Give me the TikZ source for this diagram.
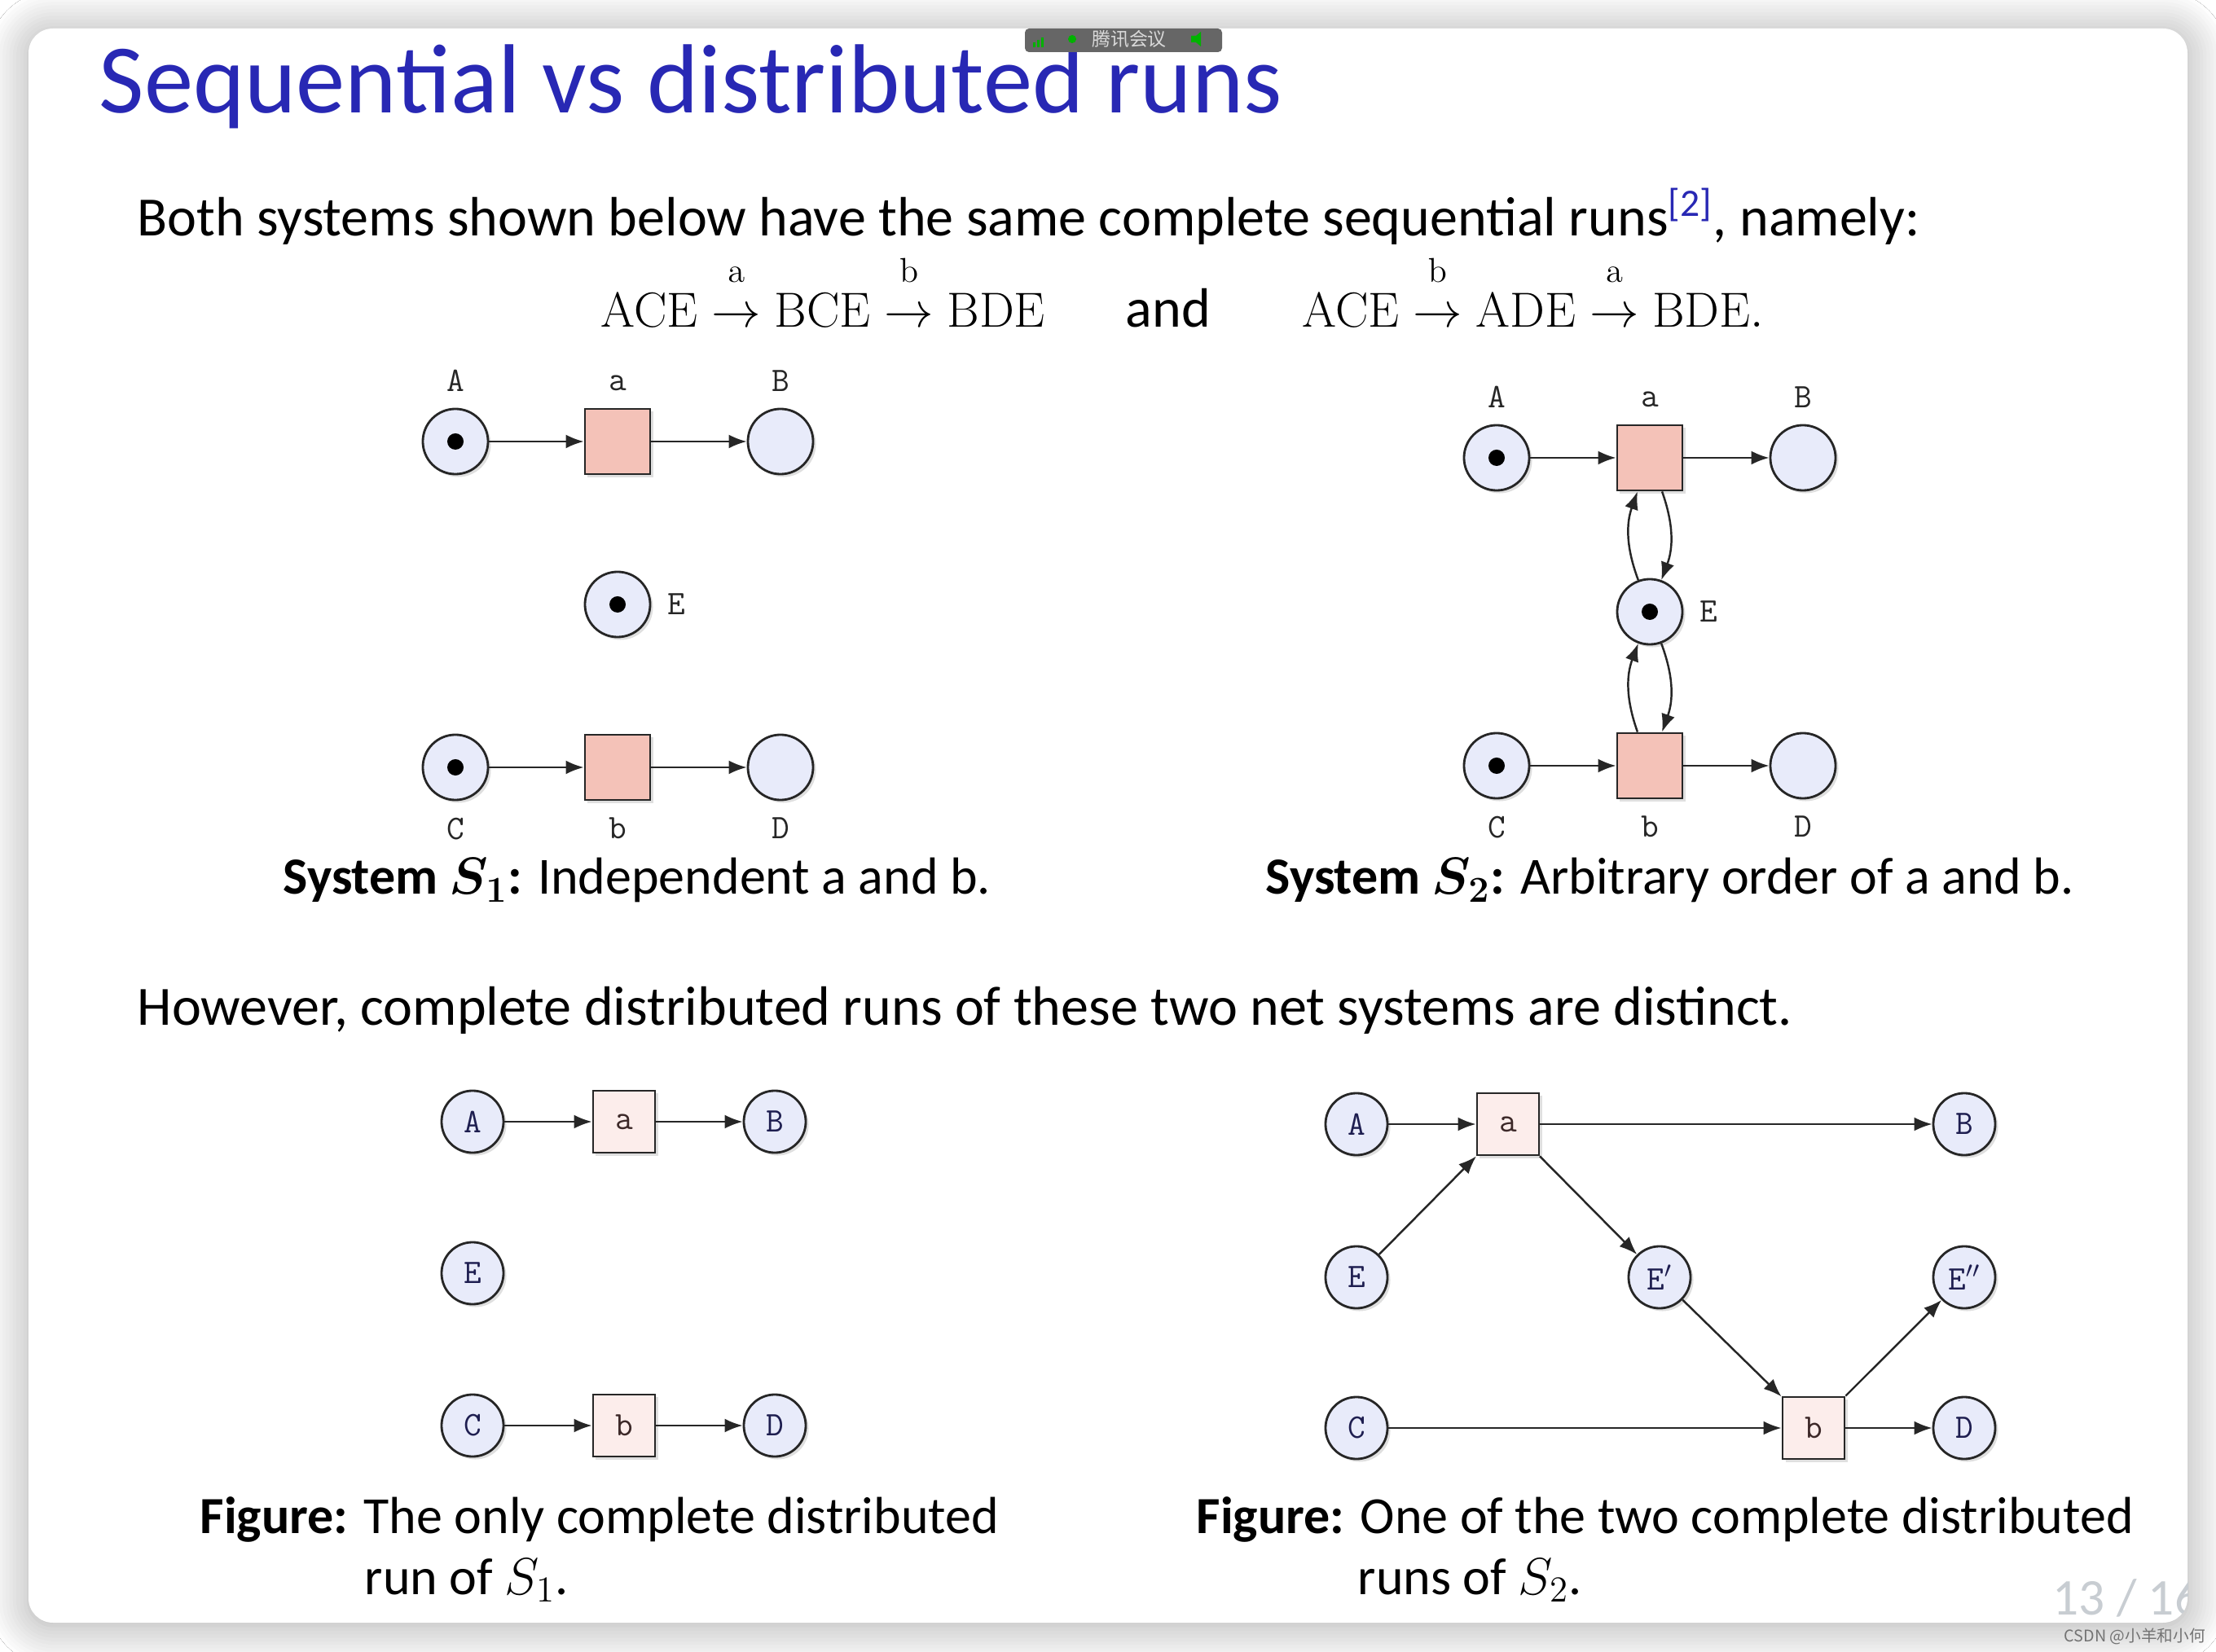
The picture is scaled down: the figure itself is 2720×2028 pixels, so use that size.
\documentclass[tikz,border=0pt]{standalone}
\usepackage{fix-cm}
\usepackage{amsmath}
\usepackage{amssymb}
\usepackage[no-math]{fontspec}
\setmainfont{Carlito}
\newfontfamily\cjkfont{Noto Sans CJK SC}
\usetikzlibrary{arrows.meta,shadows,shadows.blur}
\definecolor{slide-blue}{RGB}{40,40,180}
\definecolor{place-fill}{RGB}{232,235,250}
\definecolor{trans-fill}{RGB}{244,194,184}
\definecolor{event-fill}{RGB}{252,237,235}
\definecolor{cond-text}{RGB}{30,30,80}
\definecolor{event-text}{RGB}{60,40,40}
\definecolor{page-grey}{RGB}{200,205,210}
\newcommand{\fires}[1]{\mathrel{\overset{\raisebox{6pt}{$\scriptstyle\mathrm{#1}$}}{\rightarrow}}}

\begin{document}
\begin{tikzpicture}[x=0.01cm, y=-0.01cm,
    place/.style={circle, draw=black!85, line width=0.8pt, fill=place-fill,
        minimum size=0.8cm, inner sep=0pt,
        drop shadow={shadow xshift=0.035cm, shadow yshift=-0.035cm, opacity=0.25}},
    trans/.style={rectangle, draw=black!85, line width=0.8pt, fill=trans-fill,
        minimum size=0.8cm, inner sep=0pt,
        drop shadow={shadow xshift=0.035cm, shadow yshift=-0.035cm, opacity=0.25}},
    cond/.style={place, minimum size=0.76cm, text=cond-text,
        font=\fontsize{12}{12}\selectfont\ttfamily},
    event/.style={trans, minimum size=0.76cm, fill=event-fill, text=event-text,
        font=\fontsize{12}{12}\selectfont\ttfamily},
    lbl/.style={font=\fontsize{12}{12}\selectfont\ttfamily, text=black!85},
    arc/.style={-{Latex[length=0.22cm, width=0.17cm]}, line width=0.7pt, black!85},
    body/.style={anchor=base west, inner sep=0pt, font=\fontsize{19.35}{23}\selectfont},
    caption/.style={body, font=\fontsize{18.2}{22}\selectfont},
    label distance=0.08cm]

    % frame and slide card
    \useasboundingbox (0,0) rectangle (2720,2028);
    \fill[white] (0,0) rectangle (2720,2028);
    \path[fill=white, rounded corners=0.3cm,
        blur shadow={shadow blur steps=12, shadow xshift=0pt, shadow yshift=-1pt,
            shadow blur radius=14pt, shadow opacity=35}]
        (35,35) rectangle (2685,1992);

    % title and text
    \node[body, text=slide-blue, font=\fontsize{34.3}{40}\selectfont] (title) at (121,139)
        {Sequential vs distributed runs};
    \node[body] (intro) at (168,290)
        {Both systems shown below have the same complete sequential runs\textsuperscript{\textcolor{slide-blue}{[2]}}, namely:};
    \node[body, font=\fontsize{17.2}{22}\selectfont] (runone) at (737,402)
        {$\mathrm{ACE}\fires{a}\mathrm{BCE}\fires{b}\mathrm{BDE}$};
    \node[body, anchor=base] (runand) at (1434,402) {and};
    \node[body, font=\fontsize{17.2}{22}\selectfont] (runtwo) at (1598,402)
        {$\mathrm{ACE}\fires{b}\mathrm{ADE}\fires{a}\mathrm{BDE}.$};

    % System S1
    \node[place, label={[lbl]above:A}] (s1A) at (559,542) {};
    \node[trans, label={[lbl]above:a}] (s1a) at (758,542) {};
    \node[place, label={[lbl]above:B}] (s1B) at (958,542) {};
    \node[place, label={[lbl]right:E}] (s1E) at (758,742) {};
    \node[place, label={[lbl]below:C}] (s1C) at (559,942) {};
    \node[trans, label={[lbl]below:b}] (s1b) at (758,942) {};
    \node[place, label={[lbl]below:D}] (s1D) at (958,942) {};
    \foreach \p in {s1A, s1E, s1C} {
        \fill (\p) circle[radius=0.1cm];
    }
    \foreach \u/\v in {s1A/s1a, s1a/s1B, s1C/s1b, s1b/s1D} {
        \draw[arc] (\u) -- (\v);
    }
    \node[caption] (capone) at (347,1098)
        {\textbf{System $\boldsymbol{S_1}$:} Independent a and b.};

    % System S2
    \node[place, label={[lbl]above:A}] (s2A) at (1837,562) {};
    \node[trans, label={[lbl]above:a}] (s2a) at (2025,562) {};
    \node[place, label={[lbl]above:B}] (s2B) at (2213,562) {};
    \node[place, label={[lbl]right:E}] (s2E) at (2025,751) {};
    \node[place, label={[lbl]below:C}] (s2C) at (1837,940) {};
    \node[trans, label={[lbl]below:b}] (s2b) at (2025,940) {};
    \node[place, label={[lbl]below:D}] (s2D) at (2213,940) {};
    \foreach \p in {s2A, s2E, s2C} {
        \fill (\p) circle[radius=0.1cm];
    }
    \foreach \u/\v in {s2A/s2a, s2a/s2B, s2C/s2b, s2b/s2D} {
        \draw[arc] (\u) -- (\v);
    }
    \foreach \u/\v in {s2E/s2a, s2a/s2E, s2b/s2E, s2E/s2b} {
        \draw[arc] (\u) to[bend left=20] (\v);
    }
    \node[caption] (captwo) at (1553,1098)
        {\textbf{System $\boldsymbol{S_2}$:} Arbitrary order of a and b.};

    \node[body] (however) at (168,1258)
        {However, complete distributed runs of these two net systems are distinct.};

    % Run of S1
    \node[cond] (r1A) at (580,1377) {A};
    \node[event] (r1a) at (766,1377) {a};
    \node[cond] (r1B) at (951,1377) {B};
    \node[cond] (r1E) at (580,1563) {E};
    \node[cond] (r1C) at (580,1750) {C};
    \node[event] (r1b) at (766,1750) {b};
    \node[cond] (r1D) at (951,1750) {D};
    \foreach \u/\v in {r1A/r1a, r1a/r1B, r1C/r1b, r1b/r1D} {
        \draw[arc] (\u) -- (\v);
    }
    \node[caption] (figone) at (245,1882)
        {\textbf{Figure:} The only complete distributed};
    \node[caption] (figonenext) at (447,1957) {run of $S_1$.};

    % Run of S2
    \node[cond] (r2A) at (1665,1380) {A};
    \node[event] (r2a) at (1851,1380) {a};
    \node[cond] (r2B) at (2411,1380) {B};
    \node[cond] (r2E) at (1665,1568) {E};
    \node[cond] (r2Ep) at (2037,1568) {E$'$};
    \node[cond] (r2Epp) at (2411,1568) {E$''$};
    \node[cond] (r2C) at (1665,1753) {C};
    \node[event] (r2b) at (2226,1753) {b};
    \node[cond] (r2D) at (2411,1753) {D};
    \foreach \u/\v in {r2A/r2a, r2a/r2B, r2E/r2a, r2a/r2Ep,
                       r2Ep/r2b, r2b/r2Epp, r2C/r2b, r2b/r2D} {
        \draw[arc] (\u) -- (\v);
    }
    \node[caption] (figtwo) at (1468,1882)
        {\textbf{Figure:} One of the two complete distributed};
    \node[caption] (figtwonext) at (1666,1957) {runs of $S_2$.};

    % page number, clipped by the card
    \begin{scope}
        \clip[rounded corners=0.3cm] (35,35) rectangle (2685,1992);
        \node[body, text=page-grey, font=\fontsize{18}{20}\selectfont] (pagenum) at (2519,1982) {13 / 16};
    \end{scope}

    % meeting overlay and watermark
    \fill[black!60, rounded corners=0.05cm] (1258,35) rectangle (1500,64);
    \foreach \i/\h in {0/6, 1/9, 2/12} {
        \fill[green!70!black] (1268+\i*5,58) rectangle (1271+\i*5,58-\h);
    }
    \fill[green!70!black] (1316,48) circle[radius=0.05cm];
    \node[inner sep=0pt, text=white!85!black, font=\cjkfont\fontsize{6.5}{7}\selectfont]
        (meeting) at (1386,48) {腾讯会议};
    \fill[green!70!black] (1462,44) -- (1468,44) -- (1474,39) -- (1474,57) -- (1468,52) -- (1462,52) -- cycle;
    \node[anchor=west, inner sep=0pt, text=black!55, font=\cjkfont\fontsize{5.6}{7}\selectfont]
        (mark) at (2533,2009) {CSDN @小羊和小何};
\end{tikzpicture}
\end{document}
